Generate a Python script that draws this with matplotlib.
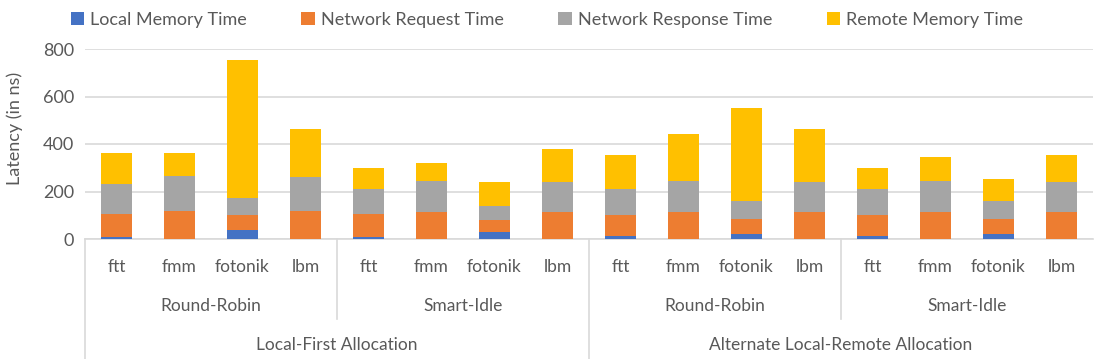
import numpy as np
import matplotlib
matplotlib.use("Agg")
import matplotlib.pyplot as plt
from matplotlib.transforms import blended_transform_factory
from matplotlib.lines import Line2D

plt.rcParams['font.family'] = ['Lato', 'DejaVu Sans']

# benchmarks, schedulers, allocation policies
benchmarks = ["ftt", "fmm", "fotonik", "lbm"]
schedulers = ["Round-Robin", "Smart-Idle"]
allocations = ["Local-First Allocation", "Alternate Local-Remote Allocation"]

series_names = ["Local Memory Time", "Network Request Time",
                "Network Response Time", "Remote Memory Time"]

# values (ns), one per bar, in display order
local_mem = [7, 1, 40, 1, 7, 1, 28, 1,
             13, 1, 20, 1, 13, 1, 20, 1]
net_req = [100, 119, 60, 119, 100, 113, 53, 112,
           87, 112, 66, 112, 87, 112, 66, 112]
net_resp = [126, 144, 72, 139, 105, 132, 59, 126,
            112, 133, 74, 126, 112, 133, 74, 126]
remote_mem = [130, 99, 583, 205, 86, 72, 99, 138,
              140, 198, 390, 225, 86, 99, 92, 113]

colors = ["#4472C4", "#ED7D31", "#A5A5A5", "#FFC000"]
txt = "#595959"
grid_c = "#D9D9D9"

fig = plt.figure(figsize=(10.95, 3.59), dpi=100)
W, H = 1095, 359
ax = fig.add_axes([85 / W, 1 - 239 / H, 1008 / W, 190 / H])

x = np.arange(len(local_mem))
bottom = np.zeros(len(x))
for vals, col, name in zip([local_mem, net_req, net_resp, remote_mem], colors, series_names):
    ax.bar(x, vals, width=0.48, bottom=bottom, color=col, label=name, zorder=3)
    bottom += np.array(vals)

ax.set_xlim(-0.5, len(x) - 0.5)
ax.set_ylim(0, 800)
ax.set_yticks([0, 200, 400, 600, 800])
ax.yaxis.grid(True, color=grid_c, linewidth=1.2, zorder=0)
ax.tick_params(axis='y', length=0, pad=8, labelsize=13, labelcolor=txt)
ax.set_xticks([])
for s in ['top', 'right', 'left']:
    ax.spines[s].set_visible(False)
ax.spines['bottom'].set_color(grid_c)
ax.spines['bottom'].set_linewidth(1.2)

fig.text(15 / W, 1 - 128 / H, "Latency (in ns)", rotation=90, ha='center', va='center',
         fontsize=13, color=txt)

# multi-level category labels
tr = blended_transform_factory(ax.transData, fig.transFigure)
i = 0
for a in range(len(allocations)):
    for s in range(len(schedulers)):
        for b in benchmarks:
            ax.text(i, 1 - 267 / H, b, transform=tr, ha='center', va='center',
                    fontsize=12.5, color=txt)
            i += 1
        ax.text(a * 8 + s * 4 + 1.5, 1 - 306 / H, schedulers[s], transform=tr,
                ha='center', va='center', fontsize=12.5, color=txt)
    ax.text(a * 8 + 3.5, 1 - 345 / H, allocations[a], transform=tr,
            ha='center', va='center', fontsize=12.5, color=txt)

# separator lines below the axis
for xb, y_end in [(-0.5, H), (3.5, 319), (7.5, H), (11.5, 319)]:
    fig.add_artist(Line2D([xb, xb], [1 - 239 / H, 1 - y_end / H], transform=tr,
                          color=grid_c, linewidth=1.2))

handles, labels = ax.get_legend_handles_labels()
fig.legend(handles, labels, loc='center', bbox_to_anchor=(547 / W, 1 - 20 / H), ncol=4,
           frameon=False, fontsize=13, labelcolor=txt, handlelength=0.75, handleheight=0.75,
           handletextpad=0.35, columnspacing=3.0)

fig.savefig("out.png", dpi=100)
